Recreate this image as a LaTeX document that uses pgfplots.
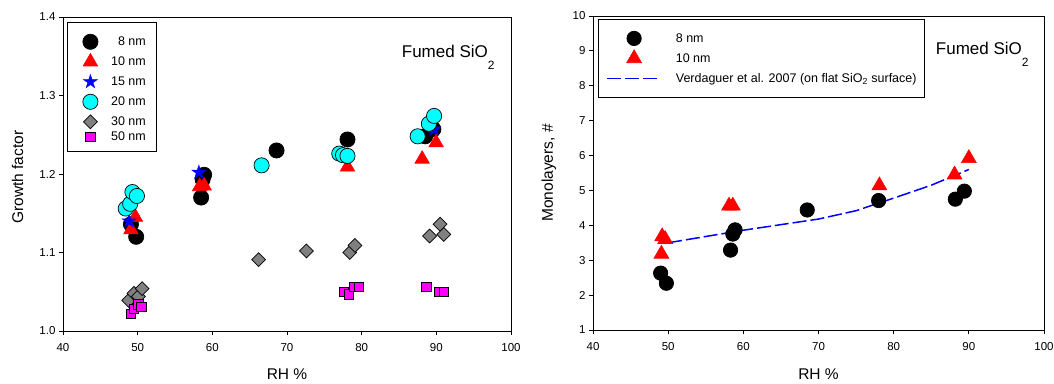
\documentclass[border=0pt]{standalone}
\usepackage{pgfplots}
\pgfplotsset{compat=1.18}
\usepackage{fontspec}
\setmainfont{Liberation Sans}
\definecolor{mygrey}{RGB}{128,128,128}
\definecolor{mycyan}{RGB}{0,255,255}
\definecolor{mymag}{RGB}{255,0,255}
\definecolor{myblue}{RGB}{0,0,255}
\definecolor{myred}{RGB}{255,0,0}
\pgfdeclareplotmark{fstar}{%
  \pgfpathmoveto{\pgfpointpolar{90}{\pgfplotmarksize}}%
  \pgfpathlineto{\pgfpointpolar{126}{0.382\pgfplotmarksize}}%
  \pgfpathlineto{\pgfpointpolar{162}{\pgfplotmarksize}}%
  \pgfpathlineto{\pgfpointpolar{198}{0.382\pgfplotmarksize}}%
  \pgfpathlineto{\pgfpointpolar{234}{\pgfplotmarksize}}%
  \pgfpathlineto{\pgfpointpolar{270}{0.382\pgfplotmarksize}}%
  \pgfpathlineto{\pgfpointpolar{306}{\pgfplotmarksize}}%
  \pgfpathlineto{\pgfpointpolar{342}{0.382\pgfplotmarksize}}%
  \pgfpathlineto{\pgfpointpolar{18}{\pgfplotmarksize}}%
  \pgfpathlineto{\pgfpointpolar{54}{0.382\pgfplotmarksize}}%
  \pgfpathclose\pgfusepathqfillstroke}
\pgfplotsset{
  common/.style={
    scale only axis,
    xmin=40, xmax=100, xtick={40,50,...,100},
    tick align=outside, xtick pos=bottom, ytick pos=left,
    major tick length=4pt,
    tick style={black, line width=0.8pt},
    axis line style={line width=0.8pt},
    /pgf/number format/assume math mode=true,
    ticklabel style={font=\fontsize{11.5}{13}\selectfont},
    xticklabel style={yshift=-5pt},
    xlabel={RH \%},
    label style={font=\fontsize{15.5}{17}\selectfont},
    legend style={draw=black, line width=0.8pt, font=\fontsize{12.5}{14}\selectfont,
      nodes={inner sep=0pt}, row sep=0pt},
  },
  mk/.style={mark options={line width=0.7pt}},
}
\newcommand{\lbox}[2]{\path[draw=none,fill=none] (0pt,-#2) rectangle (#1,#2);}
\begin{document}
\begin{tikzpicture}
\useasboundingbox (0,0) rectangle (1054pt,383pt);
\begin{axis}[common,
  at={(63pt,52pt)}, anchor=south west, width=448pt, height=314pt,
  ymin=1.0, ymax=1.4, ytick={1.0,1.1,1.2,1.3,1.4},
  yticklabel style={/pgf/number format/fixed,/pgf/number format/precision=1,/pgf/number format/fixed zerofill},
  ylabel={Growth factor},
  ylabel style={at={(axis description cs:-0.1016,0.49)}, anchor=center, rotate=0},
  xlabel style={at={(axis description cs:0.5,-0.156)}, anchor=base},
  legend cell align=right,
  legend style={at={(0.0083,0.9841)}, anchor=north west, inner xsep=11pt, inner ysep=9.4pt,
    /tikz/every odd column/.append style={column sep=5pt}},
]
\addplot[only marks, mark=*, mark size=7.6pt, draw=black, fill=black, mk,
  legend image code/.code={\lbox{28pt}{10pt}\draw plot coordinates {(12.3pt,0pt)};}] coordinates {
(49.1,1.136) (49.8,1.120) (58.5,1.170) (58.7,1.193) (58.9,1.199) (68.6,1.230) (78.1,1.244) (88.5,1.248) (89.6,1.257)};
\addlegendentry{8 nm}
\addplot[only marks, mark=triangle*, mark size=8.3pt, draw=myred, fill=myred, mk,
  legend image code/.code={\lbox{28pt}{10pt}\draw plot coordinates {(12.3pt,0pt)};}] coordinates {
(49.1,1.129) (49.7,1.145) (58.3,1.184) (58.9,1.185) (78.1,1.209) (88.1,1.219) (89.97,1.240)};
\addlegendentry{10 nm}
\addplot[only marks, mark=fstar, mark size=7.5pt, draw=myblue, fill=myblue, mark options={line width=0.3pt},
  legend image code/.code={\lbox{28pt}{10pt}\draw plot coordinates {(12.3pt,0pt)};}] coordinates {
(48.85,1.140) (58.2,1.202) (89.7,1.257)};
\addlegendentry{15 nm}
\addplot[only marks, mark=*, mark size=7.6pt, draw=black, fill=mycyan, mk,
  legend image code/.code={\lbox{28pt}{10pt}\draw plot coordinates {(12.3pt,0pt)};}] coordinates {
(48.4,1.156) (49.0,1.162) (49.3,1.177) (49.9,1.172) (66.6,1.211) (77.0,1.226) (77.5,1.224) (78.1,1.223) (87.5,1.248) (89.0,1.264) (89.7,1.274)};
\addlegendentry{20 nm}
\addplot[only marks, mark=square*, mark size=4.9pt, draw=black, fill=mygrey, mark options={rotate=45, line width=0.7pt},
  legend image code/.code={\lbox{28pt}{10pt}\draw plot coordinates {(12.3pt,0pt)};}] coordinates {
(48.8,1.039) (49.5,1.048) (50.1,1.044) (50.6,1.054) (66.2,1.091) (72.6,1.102) (78.4,1.100) (79.1,1.109) (89.1,1.121) (90.5,1.136) (91.0,1.123)};
\addlegendentry{30 nm}
\addplot[only marks, mark=square*, mark size=4.8pt, draw=black, fill=mymag, mk,
  legend image code/.code={\lbox{28pt}{5pt}\draw plot coordinates {(12.3pt,0pt)};}] coordinates {
(49.1,1.022) (49.5,1.028) (50.1,1.034) (50.5,1.031) (77.6,1.050) (78.3,1.047) (79.0,1.056) (79.6,1.056) (88.7,1.056) (90.4,1.050) (91.0,1.050)};
\addlegendentry{50 nm}
\node[anchor=base west, font=\fontsize{17}{19}\selectfont, inner sep=0pt] at (rel axis cs:0.756,0.871) {Fumed SiO\raisebox{-12pt}{\fontsize{12}{12}\selectfont 2}};
\end{axis}
\begin{axis}[common,
  at={(593pt,53pt)}, anchor=south west, width=451pt, height=314pt,
  ymin=1, ymax=10, ytick={1,2,...,10},
  ylabel={Monolayers, \#},
  ylabel style={at={(axis description cs:-0.0976,0.5)}, anchor=center, rotate=0},
  xlabel style={at={(axis description cs:0.5,-0.159)}, anchor=base},
  legend cell align=left,
  legend style={at={(0.011,0.9904)}, anchor=north west, inner xsep=8pt, inner ysep=9pt,
    /tikz/every odd column/.append style={column sep=18pt}},
]
\addplot[only marks, mark=*, mark size=7.2pt, draw=black, fill=black, mk,
  legend image code/.code={\lbox{50pt}{10pt}\draw plot coordinates {(27pt,0pt)};}] coordinates {
(49.0,2.63) (49.76,2.34) (58.3,3.29) (58.6,3.75) (58.9,3.87) (68.5,4.44) (78.0,4.71) (88.2,4.75) (89.4,4.98)};
\addlegendentry{8 nm}
\addplot[only marks, mark=triangle*, mark size=8.5pt, draw=myred, fill=myred, mk,
  legend image code/.code={\lbox{50pt}{10pt}\draw plot coordinates {(27pt,0pt)};}] coordinates {
(49.2,3.68) (49.6,3.60) (49.1,3.18) (58.1,4.56) (58.6,4.56) (78.1,5.14) (88.1,5.45) (90.0,5.92)};
\addlegendentry{10 nm}
\addplot[myblue, line width=1.5pt, dash pattern=on 14pt off 4pt,
  legend image code/.code={\lbox{50pt}{10pt}\draw (0pt,0pt) -- (50pt,0pt);}] coordinates {
(50,3.5) (60,3.86) (70,4.18) (75,4.42) (80,4.78) (85,5.15) (90,5.6)};
\addlegendentry{Verdaguer et al. 2007 (on flat SiO\textsubscript{2} surface)}
\node[anchor=base west, font=\fontsize{17}{19}\selectfont, inner sep=0pt] at (rel axis cs:0.76,0.879) {Fumed SiO\raisebox{-12pt}{\fontsize{12}{12}\selectfont 2}};
\end{axis}
\end{tikzpicture}
\end{document}
